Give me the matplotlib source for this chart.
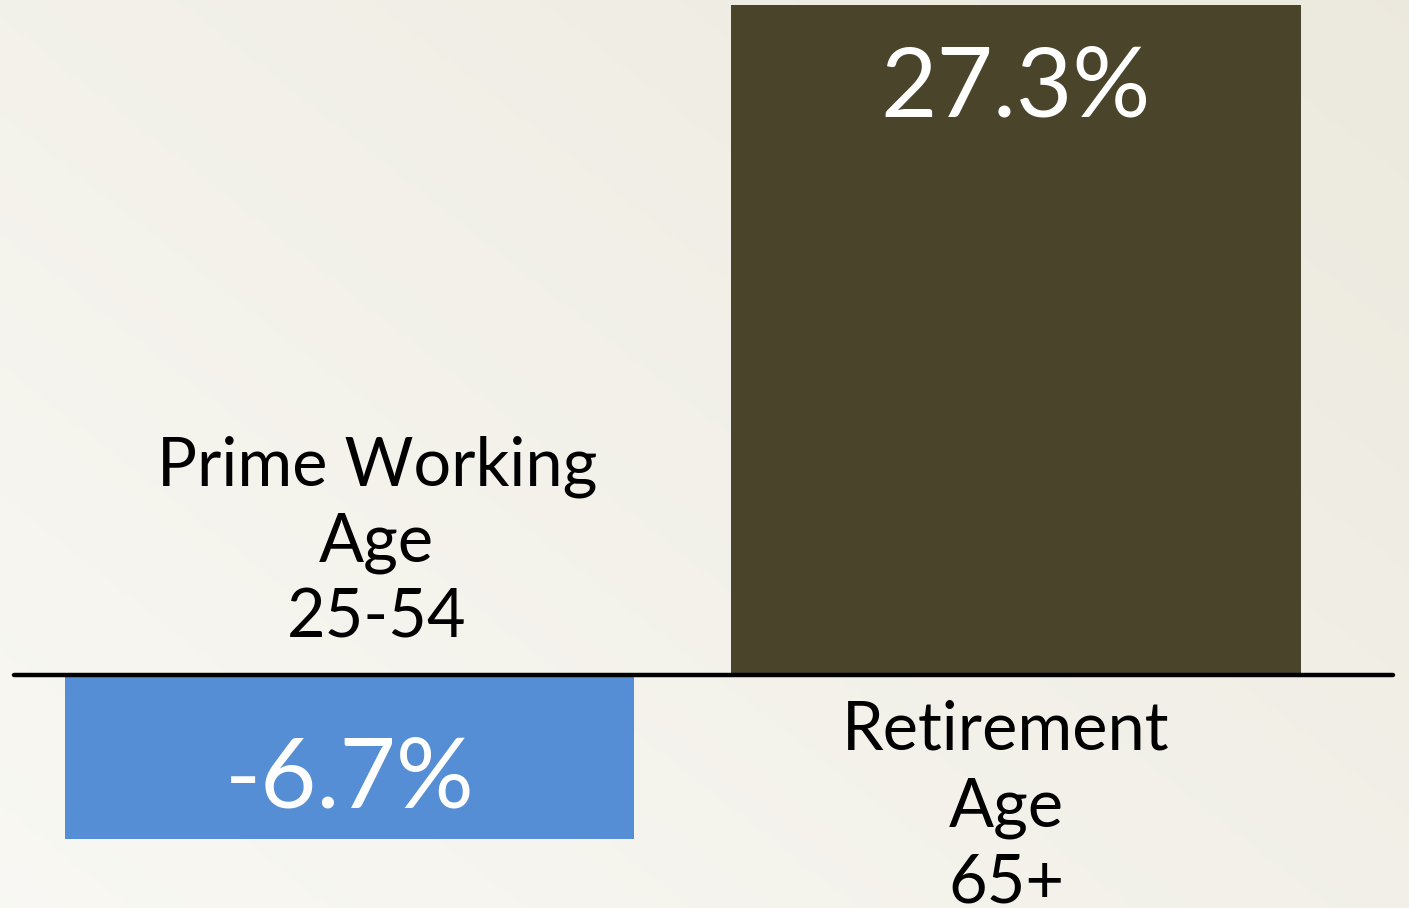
"""Change in population by age group: prime working age vs retirement age."""

import matplotlib

matplotlib.use("Agg")
import matplotlib.pyplot as plt
import numpy as np

# data
groups = ["prime", "retire"]
group_labels = [["Prime Working", "Age", "25-54"], ["Retirement", "Age", "65+"]]
changes = [-6.7, 27.3]
value_labels = ["-6.7%", "27.3%"]

BAR_COLORS = ["#558ED5", "#4A442B"]
FONT = ["Lato", "DejaVu Sans"]

plt.rcParams["font.family"] = FONT

W, H = 1409, 908
fig = plt.figure(figsize=(W / 100, H / 100), dpi=100)

# soft background gradient (light bottom-left, beige top-right)
bg = fig.add_axes([0, 0, 1, 1], zorder=0)
yy, xx = np.mgrid[0:1:200j, 0:1:300j]
t = np.clip(0.55 * xx + 0.45 * yy, 0, 1)
light = np.array([0.975, 0.973, 0.955])
dark = np.array([0.925, 0.913, 0.870])
img = light[None, None, :] * (1 - t[..., None]) + dark[None, None, :] * t[..., None]
bg.imshow(img, origin="lower", aspect="auto", extent=[0, 1, 0, 1])
bg.axis("off")

ax = fig.add_axes([0, 0, 1, 1], zorder=1)
ax.patch.set_alpha(0)
x = np.arange(len(groups))
ax.bar(x, changes, width=0.855, color=BAR_COLORS, zorder=2)
ax.set_xlim(-0.5244, 1.5897)
ax.set_ylim(-9.495, 27.50)
ax.axis("off")

# zero line
ax.plot([-0.5034, 1.5656], [0, 0], color="black", lw=3.2, solid_capstyle="round", zorder=3)

# value labels inside the bar ends
for xi, v, lab in zip(x, changes, value_labels):
    dy = -112 if v >= 0 else 32
    ax.annotate(lab, (xi, v), xytext=(0, dy), textcoords="offset pixels",
                ha="center", va="baseline", color="white", fontsize=70, zorder=4)

# category labels on the opposite side of the zero line
label_x = [0.041, 0.985]
for xi, v, lines in zip(label_x, changes, group_labels):
    n = len(lines)
    for i, line in enumerate(lines):
        if v < 0:
            dy = 37 + (n - 1 - i) * 76
        else:
            dy = -75 - i * 76.5
        ax.annotate(line, (xi, 0), xytext=(0, dy), textcoords="offset pixels",
                    ha="center", va="baseline", color="black", fontsize=48, zorder=4)

fig.savefig("out.png", dpi=100)
